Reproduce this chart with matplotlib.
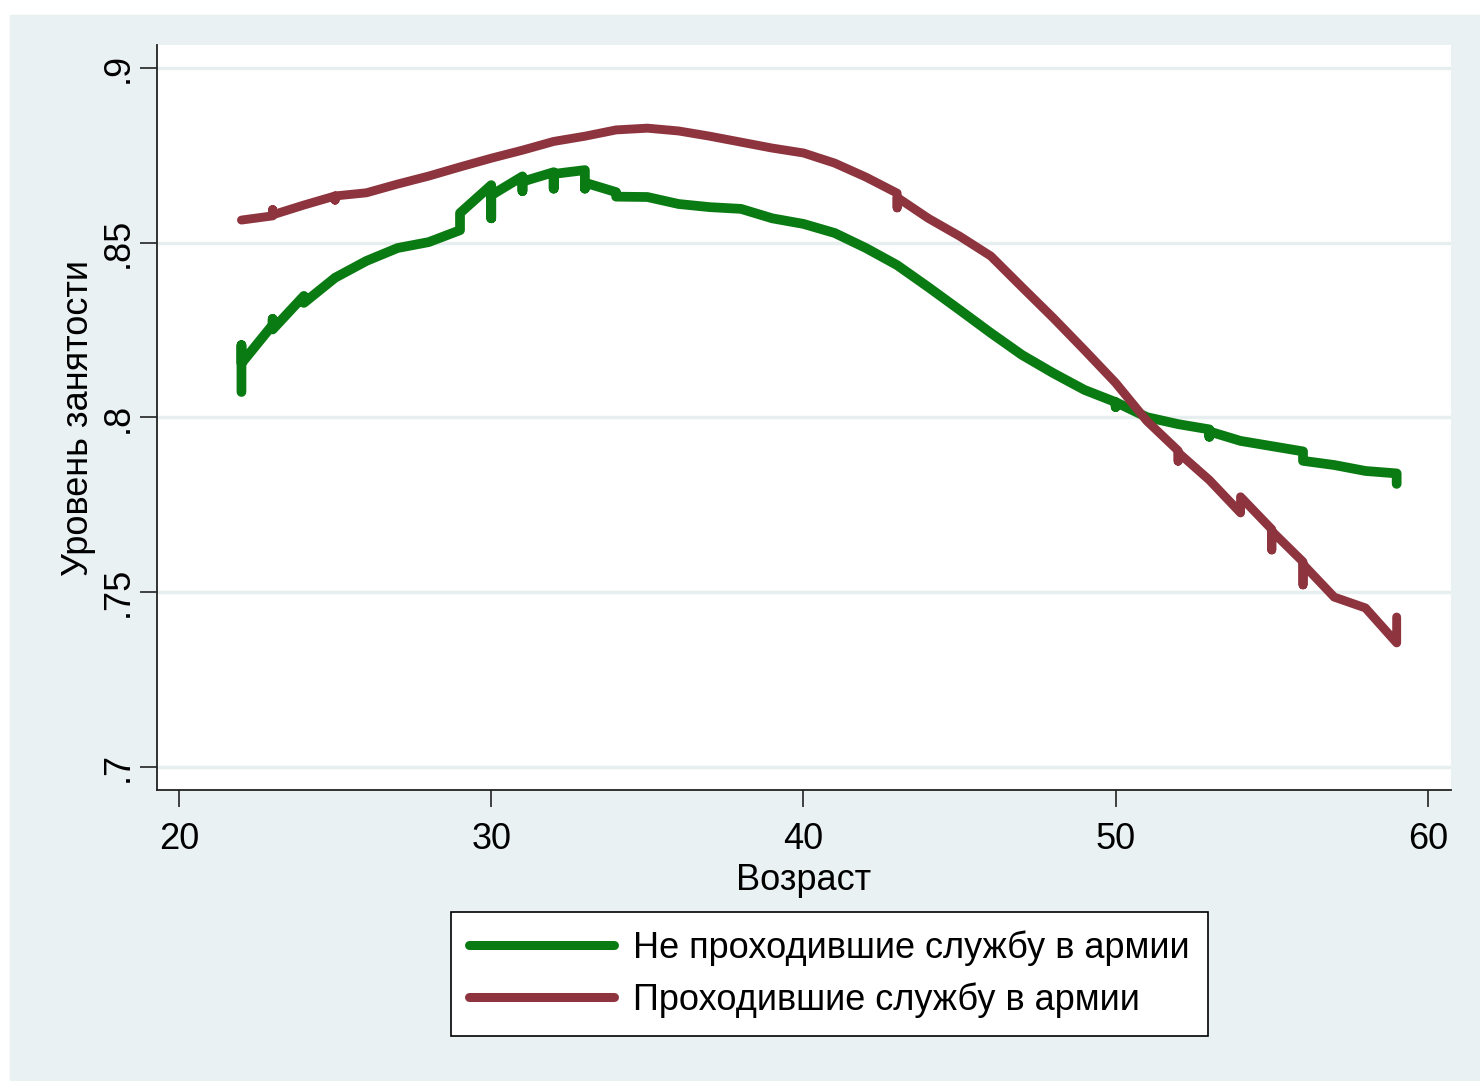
import matplotlib.pyplot as plt
from matplotlib.patches import Rectangle

plt.rcParams['font.family'] = ['Liberation Sans', 'DejaVu Sans']

# not served in the army (ages repeat where the curve jumps at an age)
green_age = [22, 22, 22, 23, 23, 23, 24, 24, 25, 26, 27, 28, 29, 29,
             30, 30, 30, 31, 31, 31, 32, 32, 32, 33, 33, 33, 34, 34, 35,
             36, 37, 38, 39, 40, 41, 42, 43, 44, 45, 46, 47, 48, 49,
             50, 50, 50, 51, 52, 53, 53, 53, 54, 55, 56, 56, 57, 58, 59, 59]
green_rate = [0.8073, 0.8207, 0.8155, 0.8265, 0.8282, 0.8252, 0.8348, 0.8328,
              0.8400, 0.8448, 0.8485, 0.8502, 0.8536, 0.8585,
              0.8665, 0.8570, 0.8636, 0.8690, 0.8648, 0.8675, 0.8702, 0.8655, 0.8697,
              0.8708, 0.8655, 0.8672, 0.8645, 0.8632, 0.8631,
              0.8611, 0.8602, 0.8597, 0.8570, 0.8554, 0.8528, 0.8485, 0.8436,
              0.8373, 0.8308, 0.8242, 0.8179, 0.8127, 0.8079,
              0.8044, 0.8030, 0.8044, 0.8001, 0.7981, 0.7966, 0.7945, 0.7960,
              0.7933, 0.7918, 0.7903, 0.7876, 0.7864, 0.7847, 0.7840, 0.7810]

# served in the army
red_age = [22, 23, 23, 23, 24, 25, 25, 25, 26, 27, 28, 29, 30, 31, 32, 33,
           34, 35, 36, 37, 38, 39, 40, 41, 42, 43, 43, 43, 44, 45, 46, 47,
           48, 49, 50, 51, 52, 52, 52, 53, 54, 54, 55, 55, 55, 56, 56, 56,
           57, 58, 59, 59]
red_rate = [0.8565, 0.8577, 0.8595, 0.8580, 0.8608, 0.8634, 0.8622, 0.8634,
            0.8643, 0.8668, 0.8691, 0.8717, 0.8742, 0.8765, 0.8790, 0.8805,
            0.8823, 0.8828, 0.8820, 0.8805, 0.8788, 0.8771, 0.8757, 0.8728,
            0.8688, 0.8642, 0.8600, 0.8630, 0.8570, 0.8519, 0.8462, 0.8373,
            0.8285, 0.8193, 0.8099, 0.7990, 0.7905, 0.7875, 0.7900, 0.7821,
            0.7727, 0.7773, 0.7680, 0.7621, 0.7675, 0.7587, 0.7521, 0.7580,
            0.7486, 0.7455, 0.7355, 0.7429]

x_ticks = [20, 30, 40, 50, 60]
y_ticks = [0.7, 0.75, 0.8, 0.85, 0.9]
y_tick_labels = ['.7', '.75', '.8', '.85', '.9']

labels = ['Не проходившие службу в армии', 'Проходившие службу в армии']
colors = ['#0a7a12', '#8e343f']

fig = plt.figure(figsize=(14.8, 10.81), dpi=100, facecolor='white')
fig.patches.append(Rectangle((10 / 1480, 0), 1, 1 - 15 / 1081,
                             transform=fig.transFigure, color='#eaf1f3', zorder=-5))

ax = fig.add_axes([157 / 1480, 1 - 790 / 1081, (1451 - 157) / 1480, (790 - 45) / 1081])
ax.set_facecolor('white')

ax.plot(green_age, green_rate, color=colors[0], lw=7.0, label=labels[0],
        solid_capstyle='round', solid_joinstyle='round', zorder=3)
ax.plot(red_age, red_rate, color=colors[1], lw=6.4, label=labels[1],
        solid_capstyle='round', solid_joinstyle='round', zorder=3)

ax.set_xlim(19.295, 60.74)
ax.set_ylim(0.6934, 0.9066)
ax.set_xticks(x_ticks)
ax.set_yticks(y_ticks)
ax.set_yticklabels(y_tick_labels, rotation=90, va='center')

for y in y_ticks:
    ax.axhline(y, color='#e6eef0', lw=2.5, zorder=1)

for s in ['top', 'right']:
    ax.spines[s].set_visible(False)
for s in ['left', 'bottom']:
    ax.spines[s].set_linewidth(1.3)
    ax.spines[s].set_color('#222222')

ax.tick_params(axis='both', direction='out', length=12, width=1.2,
               labelsize=26, color='#222222')
ax.tick_params(axis='y', pad=3)
ax.tick_params(axis='x', pad=11)

ax.set_xlabel('Возраст', fontsize=26, labelpad=4)
ax.set_ylabel('Уровень занятости', fontsize=26, labelpad=4)

leg = ax.legend(loc='upper left', bbox_to_anchor=(451 / 1480, 1 - 912 / 1081),
                bbox_transform=fig.transFigure, borderaxespad=0, fontsize=26,
                handlelength=4.0, handletextpad=0.55, labelspacing=0.45,
                borderpad=0.5, fancybox=False, framealpha=1, edgecolor='black')
leg.get_frame().set_linewidth(1.2)
for line in leg.get_lines():
    line.set_linewidth(6.5)
    line.set_solid_capstyle('round')

fig.savefig('out.png', dpi=100, facecolor=fig.get_facecolor())
